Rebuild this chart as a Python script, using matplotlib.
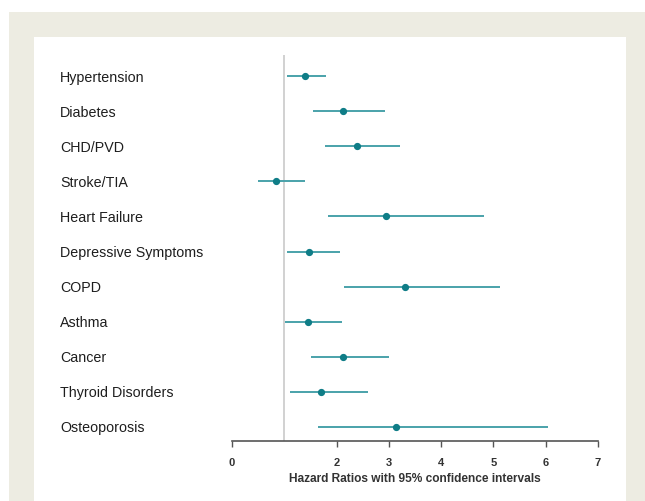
import matplotlib.pyplot as plt
import matplotlib.transforms as mtransforms
from matplotlib.patches import Rectangle

plt.rcParams['font.family'] = ['Liberation Sans', 'DejaVu Sans']

labels = ['Hypertension', 'Diabetes', 'CHD/PVD', 'Stroke/TIA', 'Heart Failure',
          'Depressive Symptoms', 'COPD', 'Asthma', 'Cancer', 'Thyroid Disorders',
          'Osteoporosis']
hr = [1.39, 2.12, 2.39, 0.85, 2.94, 1.48, 3.31, 1.46, 2.13, 1.71, 3.13]
lo = [1.06, 1.55, 1.78, 0.50, 1.84, 1.06, 2.14, 1.01, 1.52, 1.10, 1.64]
hi = [1.79, 2.93, 3.21, 1.40, 4.82, 2.07, 5.12, 2.10, 3.01, 2.61, 6.04]
xticks = [0, 2, 3, 4, 5, 6, 7]

W, H = 645, 501
fig = plt.figure(figsize=(W/100, H/100), dpi=100)
fig.patch.set_facecolor('white')
# beige frame and white panel
fig.patches.append(Rectangle((9/W, 0), 1 - 9/W, 1 - 12/H, transform=fig.transFigure,
                             facecolor='#edece2', edgecolor='none', zorder=-2))
fig.patches.append(Rectangle((34/W, 0), (626-34)/W, 1 - 37/H, transform=fig.transFigure,
                             facecolor='white', edgecolor='none', zorder=-1))

ax = fig.add_axes([232/W, 60/H, 366/W, 386/H])
ax.patch.set_alpha(0)

line_c = '#4aa2aa'
dot_c = '#0f7d87'
y = list(range(len(labels)))

ax.axvline(1, color='#c9c9c9', lw=1.2, zorder=1)
ax.hlines(y, lo, hi, color=line_c, lw=1.4, zorder=2)
ax.plot(hr, y, 'o', color=dot_c, ms=4.2, zorder=3)

ax.set_xlim(0, 7)
ax.set_ylim(len(labels) - 0.6, -0.6)
ax.set_xticks(xticks)
ax.set_xticklabels([str(t) for t in xticks], fontsize=8, fontweight='bold', color='#333333')
ax.set_yticks([])
ax.tick_params(axis='x', length=4, width=1, color='#555555', pad=8)
for s in ['top', 'right', 'left']:
    ax.spines[s].set_visible(False)
ax.spines['bottom'].set_color('#555555')
ax.spines['bottom'].set_linewidth(1.2)
ax.set_xlabel('Hazard Ratios with 95% confidence intervals', fontsize=8.6,
              fontweight='bold', color='#333333', labelpad=4)

trans = mtransforms.blended_transform_factory(fig.transFigure, ax.transData)
for i, lab in enumerate(labels):
    ax.text(60/W, i, lab, transform=trans, ha='left', va='center_baseline',
            fontsize=10.3, color='#1e1e1e')

plt.savefig('out.png', dpi=100)
